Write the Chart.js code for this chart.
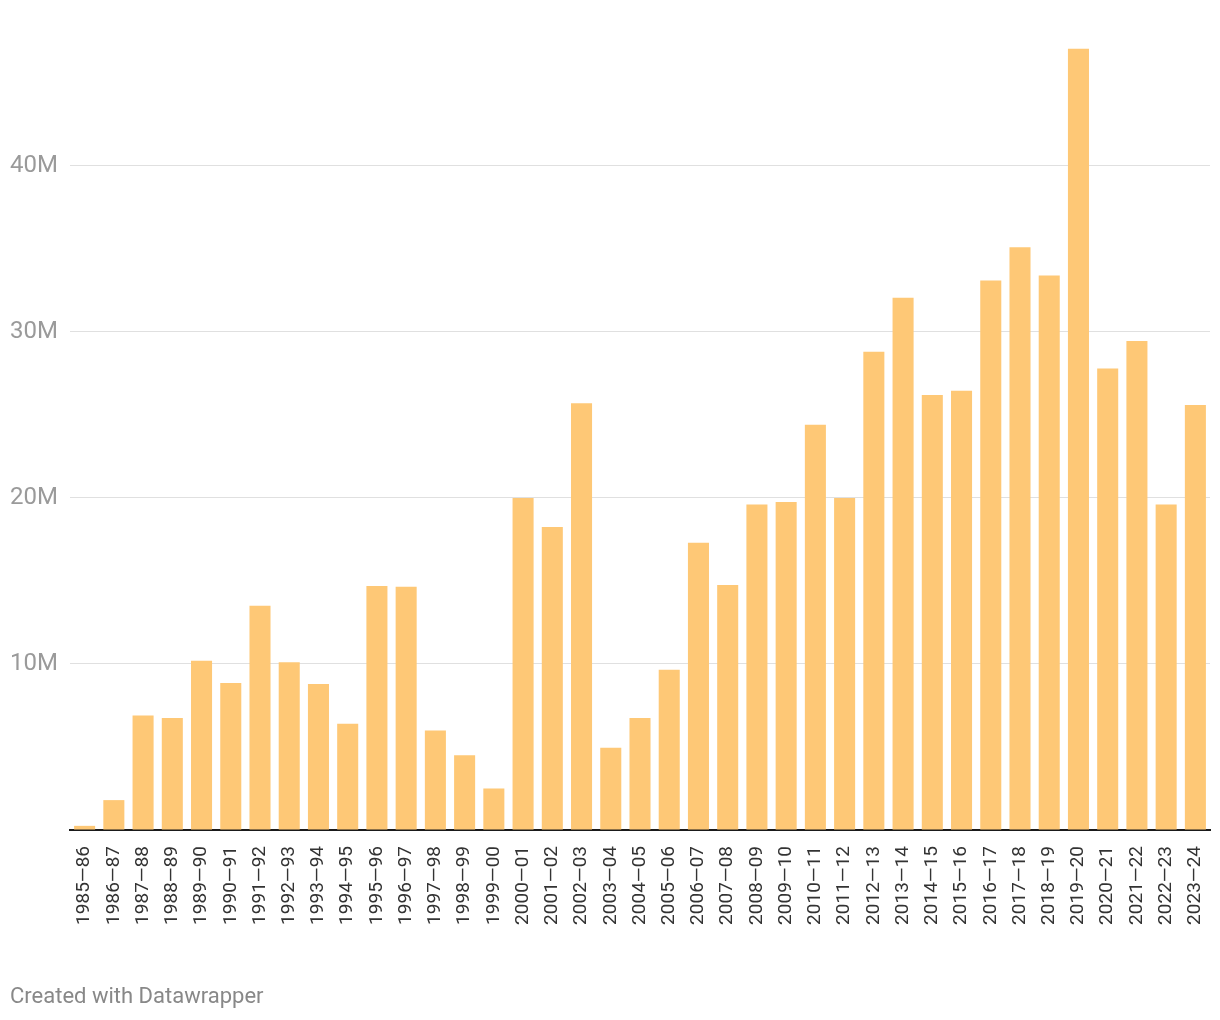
<!DOCTYPE html>
<html>
<head>
<meta charset="utf-8">
<script src="https://cdn.jsdelivr.net/npm/chart.js@4/dist/chart.umd.min.js"></script>
<style>
html,body{margin:0;padding:0;background:#fff;}
#wrap{position:relative;width:1220px;height:1020px;}
#footer{position:absolute;left:10px;top:983px;font-family:Roboto,sans-serif;font-size:22px;color:#888;}
</style>
</head>
<body>
<div id="wrap">
<canvas id="c" width="1220" height="1020"></canvas>
<div id="footer">Created with Datawrapper</div>
</div>
<script>
const categories = ["1985—86","1986—87","1987—88","1988—89","1989—90","1990—91","1991—92","1992—93","1993—94","1994—95","1995—96","1996—97","1997—98","1998—99","1999—00","2000—01","2001—02","2002—03","2003—04","2004—05","2005—06","2006—07","2007—08","2008—09","2009—10","2010—11","2011—12","2012—13","2013—14","2014—15","2015—16","2016—17","2017—18","2018—19","2019—20","2020—21","2021—22","2022—23","2023—24"];
const valuesMillions = [0.25,1.8,6.9,6.75,10.2,8.85,13.5,10.1,8.8,6.4,14.7,14.65,6.0,4.5,2.5,20.0,18.25,25.7,4.95,6.75,9.65,17.3,14.75,19.6,19.75,24.4,20.0,28.8,32.05,26.2,26.45,33.1,35.1,33.4,47.05,27.8,29.45,19.6,25.6];
const yTicks = [0,10,20,30,40];

new Chart(document.getElementById('c'), {
  type: 'bar',
  data: {
    labels: categories,
    datasets: [{
      data: valuesMillions,
      backgroundColor: '#fec876',
      borderWidth: 0,
      barPercentage: 0.72,
      categoryPercentage: 1.0
    }]
  },
  options: {
    responsive: false,
    animation: false,
    layout: { padding: { left: 10, right: 10, top: 33, bottom: 90 } },
    plugins: { legend: { display: false }, tooltip: { enabled: false } },
    scales: {
      x: {
        grid: { display: false, drawTicks: false },
        border: { display: true, color: '#1a1a1a', width: 2 },
        ticks: {
          autoSkip: false,
          maxRotation: 90,
          minRotation: 90,
          padding: 16,
          color: '#333',
          font: { family: 'Roboto', size: 19 }
        },
        afterFit: (s) => { s.height = 100; s.paddingLeft = 0; s.paddingRight = 0; }
      },
      y: {
        min: 0,
        max: 48,
        afterBuildTicks: (s) => { s.ticks = yTicks.map(v => ({ value: v })); },
        grid: {
          drawTicks: false,
          color: (ctx) => ctx.tick && ctx.tick.value === 0 ? 'rgba(0,0,0,0)' : '#e0e0e0',
          lineWidth: 1
        },
        border: { display: false },
        ticks: {
          crossAlign: 'far',
          color: '#9a9a9a',
          font: { family: 'Roboto', size: 24 },
          callback: (v) => v === 0 ? '' : v + 'M'
        },
        afterFit: (s) => { s.width = 60; }
      }
    }
  }
});
</script>
</body>
</html>
